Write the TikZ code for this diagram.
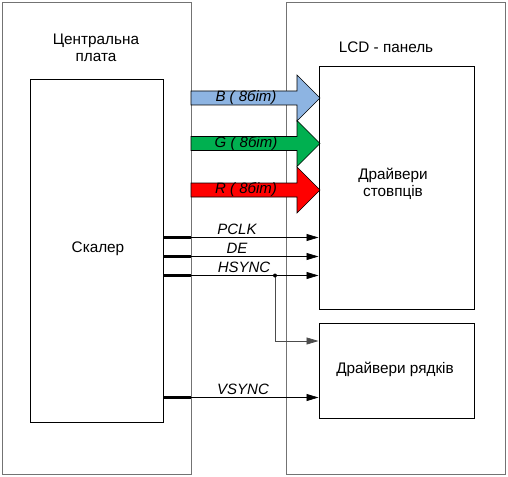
\documentclass[tikz,border=0pt]{standalone}
\usepackage{fontspec}
\setmainfont{Liberation Sans}
\usetikzlibrary{arrows.meta}
\definecolor{bcol}{RGB}{141,180,226}
\definecolor{gcol}{RGB}{0,176,80}
\definecolor{rcol}{RGB}{255,0,0}
\tikzset{
  box/.style={draw=black, line width=1pt, inner sep=0pt},
  txt/.style={font=\fontsize{15.3}{17}\selectfont, align=center, inner sep=0pt},
  lbl/.style={font=\fontsize{15}{17}\selectfont\itshape, inner sep=0pt},
  sig/.style={draw=black, line width=0.7pt, -{Triangle[length=12pt,width=7pt]}},
  thick seg/.style={line width=2.5pt},
  bigarrow/.style={draw=black, line width=0.6pt}
}
\begin{document}
\begin{tikzpicture}[x=1pt,y=-1pt]
\useasboundingbox (0,0) rectangle (508,476);
% outer boards
\node[draw=black!55, line width=0.8pt, minimum width=189pt, minimum height=472pt, inner sep=0pt] (board) at (96.5,238) {};
\node[draw=black!55, line width=0.8pt, minimum width=219pt, minimum height=472pt, inner sep=0pt] (panel) at (395.5,238) {};
\node[txt] (boardlbl) at (96,48) {Центральна\\плата};
\node[txt] (panellbl) at (386,47) {LCD - панель};
% big arrows
\foreach \y/\c/\t in {98/bcol/B,143.5/gcol/G,190/rcol/R}{
  \filldraw[bigarrow, fill=\c] (191,\y-7) -- (297,\y-7) -- (297,\y-23) -- (320,\y) -- (297,\y+23) -- (297,\y+7) -- (191,\y+7) -- cycle;
  \node[lbl] (arr\t) at (246,\y) {\t\ ( 8біт)};
}
% inner boxes
\node[box, minimum width=133pt, minimum height=342pt] (scaler) at (96.5,251) {};
\node[txt] (scalerlbl) at (98,249) {Скалер};
\node[box, minimum width=155pt, minimum height=242pt] (cols) at (396.5,188) {};
\node[txt] (colslbl) at (393,184) {Драйвери\\стовпців};
\node[box, minimum width=155pt, minimum height=95pt] (rows) at (396.5,370.5) {};
\node[txt] (rowslbl) at (395,369) {Драйвери рядків};
% signals
\coordinate (yp) at (0,237.5);
\coordinate (yd) at (0,256.5);
\coordinate (yh) at (0,275.5);
\coordinate (yv) at (0,397.5);
\coordinate (yb) at (0,341);
\foreach \c/\t/\x in {yp/PCLK/237,yd/DE/237,yh/HSYNC/244,yv/VSYNC/243}{
  \draw[thick seg] (scaler.east |- \c) -- (board.east |- \c);
  \draw[sig] (scaler.east |- \c) -- (cols.west |- \c);
  \node[lbl, anchor=base] (l\t) at ([yshift=3.5pt]\x,0 |- \c) {\t};
}
\coordinate (dot) at (275,275.5);
\draw[sig, draw=black!70] (dot) |- (rows.west |- yb);
\fill (dot) circle (2pt);
\end{tikzpicture}
\end{document}
